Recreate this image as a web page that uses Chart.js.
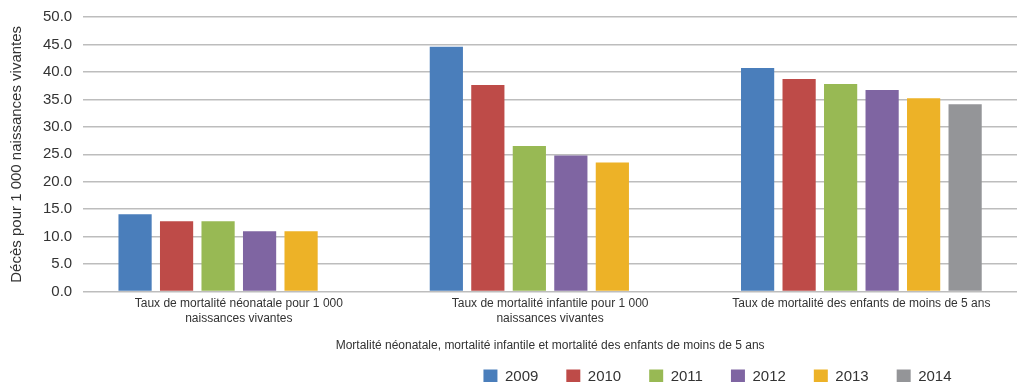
<!DOCTYPE html>
<html lang="fr">
<head>
<meta charset="utf-8">
<title>Mortalité néonatale, infantile et des enfants de moins de 5 ans</title>
<script src="https://cdn.jsdelivr.net/npm/chart.js@4.4.1/dist/chart.umd.min.js"></script>
<style>
  html, body { margin: 0; padding: 0; background: #fff; }
  #wrap { width: 1017px; height: 382px; position: relative; }
</style>
</head>
<body>
<div id="wrap"><canvas id="mortaliteChart"></canvas></div>
<script>
// Catégories (axe X, libellés sur deux lignes)
const categories = [
    ['Taux de mortalité néonatale pour 1 000', 'naissances vivantes'],
    ['Taux de mortalité infantile pour 1 000', 'naissances vivantes'],
    'Taux de mortalité des enfants de moins de 5 ans'
];

const annees = ['2009', '2010', '2011', '2012', '2013', '2014'];

// Décès pour 1 000 naissances vivantes, par année
const val2009 = [14.1, 44.6, 40.7];
const val2010 = [12.8, 37.6, 38.7];
const val2011 = [12.8, 26.5, 37.8];
const val2012 = [11.0, 24.8, 36.7];
const val2013 = [11.0, 23.5, 35.2];
const val2014 = [null, null, 34.1];

const yTicks = [0, 5, 10, 15, 20, 25, 30, 35, 40, 45, 50];

const couleurs = ['#4a7ebb', '#be4b48', '#98b954', '#7f65a2', '#edb227', '#949598'];
const series = [val2009, val2010, val2011, val2012, val2013, val2014];

const police = "'Liberation Sans', Arial, sans-serif";
const texte = '#333333';

// la légende est décalée vers la droite et tout en bas (padding large entre les items)
const legendShift = {
    id: 'legendShift',
    afterLayout(chart) {
        const lg = chart.legend;
        if (!lg) return;
        const dx = 209, dy = 12;
        lg.left += dx;
        lg.right += dx;
        lg.top += dy;
        lg.bottom += dy;
    }
};

function createMortaliteChart() {
    const ctx = document.getElementById('mortaliteChart');
    if (!ctx) return;

    new Chart(ctx, {
        type: 'bar',
        data: {
            labels: categories,
            datasets: annees.map((a, i) => ({
                label: a,
                data: series[i],
                backgroundColor: couleurs[i],
                borderWidth: 0,
                categoryPercentage: 0.8,
                barPercentage: 0.8
            }))
        },
        options: {
            responsive: true,
            maintainAspectRatio: false,
            animation: false,
            layout: {
                padding: { top: 17, left: 0, right: 0, bottom: 0 }
            },
            plugins: {
                legend: {
                    display: true,
                    position: 'bottom',
                    align: 'center',
                    labels: {
                        boxWidth: 14,
                        boxHeight: 14,
                        padding: 28,
                        color: texte,
                        font: { family: police, size: 15 }
                    }
                },
                tooltip: { enabled: false }
            },
            scales: {
                x: {
                    grid: { display: false, drawTicks: false },
                    border: { display: false },
                    ticks: {
                        color: texte,
                        padding: 5,
                        maxRotation: 0,
                        autoSkip: false,
                        font: { family: police, size: 12, lineHeight: 1.25 }
                    },
                    title: {
                        display: true,
                        text: 'Mortalité néonatale, mortalité infantile et mortalité des enfants de moins de 5 ans',
                        color: texte,
                        font: { family: police, size: 12 },
                        padding: { top: 7, bottom: -24 }
                    }
                },
                y: {
                    min: 0,
                    max: 50,
                    afterBuildTicks(scale) {
                        scale.ticks = yTicks.map(v => ({ value: v }));
                    },
                    grid: {
                        color: '#bdbdbd',
                        lineWidth: 1.5,
                        drawTicks: true,
                        tickLength: 7,
                        tickColor: 'rgba(0,0,0,0)'
                    },
                    border: { display: false },
                    ticks: {
                        color: texte,
                        padding: 4,
                        font: { family: police, size: 15 },
                        callback: function(value) {
                            return value.toFixed(1);
                        }
                    },
                    title: {
                        display: true,
                        text: 'Décès pour 1 000 naissances vivantes',
                        color: texte,
                        font: { family: police, size: 15 },
                        padding: { top: 8, bottom: 13 }
                    }
                }
            }
        },
        plugins: [legendShift]
    });
}

createMortaliteChart();
</script>
</body>
</html>
